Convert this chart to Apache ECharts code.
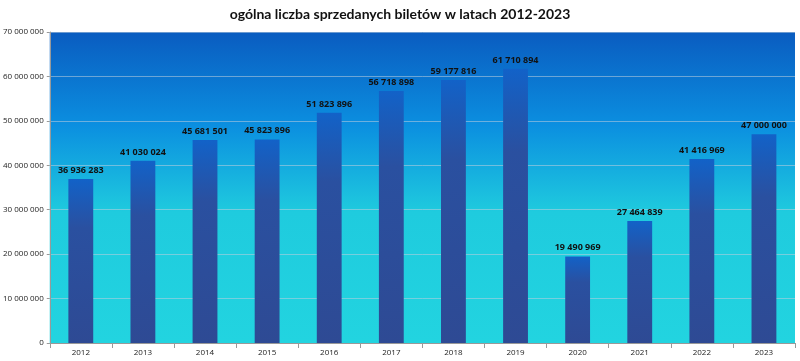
<!DOCTYPE html>
<html><head><meta charset="utf-8">
<script src="https://cdn.jsdelivr.net/npm/echarts@6/dist/echarts.min.js"></script>
<style>html,body{margin:0;padding:0;background:#fff}#c{width:800px;height:361px}</style>
</head><body><div id="c"></div>
<script>
const title = 'ogólna liczba sprzedanych biletów w latach 2012-2023';
const years = ['2012','2013','2014','2015','2016','2017','2018','2019','2020','2021','2022','2023'];
const tickets = [36936283, 41030024, 45681501, 45823896, 51823896, 56718898, 59177816, 61710894, 19490969, 27464839, 41416969, 47000000];

function fmt(v){ return String(v).replace(/\B(?=(\d{3})+(?!\d))/g, ' '); }

const chart = echarts.init(document.getElementById('c'));
chart.setOption({
  animation: false,
  title: { text: title, left: 'center', top: 2,
    textStyle: { fontFamily: 'Lato', fontSize: 14, fontWeight: 'bold', color: '#111' } },
  grid: { left: 48, right: 5, top: 32, bottom: 18, show: true, borderWidth: 0,
    backgroundColor: new echarts.graphic.LinearGradient(0,0,0,1,[
      {offset:0,color:'#0a5cc0'},{offset:0.3,color:'#0b8fe0'},{offset:0.58,color:'#1fcbde'},{offset:1,color:'#22d4e0'}]) },
  xAxis: { type: 'category', data: years,
    axisLine: { lineStyle: { color: '#999' } },
    axisTick: { show: true, lineStyle: { color: '#999' } },
    axisLabel: { fontFamily: 'Open Sans', fontSize: 8, color: '#222', margin: 6 } },
  yAxis: { type: 'value', min: 0, max: 70000000, interval: 10000000,
    axisLine: { show: true, lineStyle: { color: '#999' } },
    axisTick: { show: true, length: 3, lineStyle: { color: '#999' } },
    axisLabel: { fontFamily: 'Open Sans', fontSize: 8, color: '#222', margin: 6, formatter: v => fmt(v) },
    splitLine: { lineStyle: { color: 'rgba(190,205,220,0.55)', width: 1 } } },
  series: [{ type: 'bar', data: tickets, barWidth: '40%',
    itemStyle: { color: new echarts.graphic.LinearGradient(0,0,0,1,[
      {offset:0,color:'#1262c8'},{offset:0.3,color:'#2a50a0'},{offset:1,color:'#2e4a94'}]) },
    label: { show: true, position: 'top', distance: 4, formatter: p => fmt(p.value),
      fontFamily: 'Open Sans', fontSize: 9, fontWeight: 'bold', color: '#111' } }]
});
</script></body></html>
